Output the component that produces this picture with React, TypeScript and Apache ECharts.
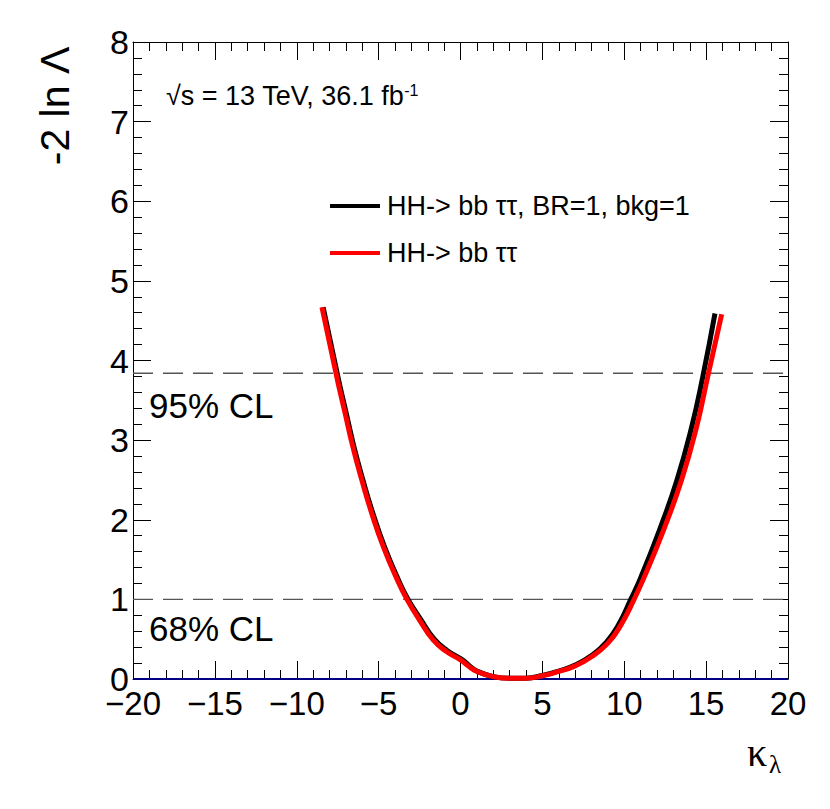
import React, { useEffect, useRef } from "react";
import * as echarts from "echarts";

const xRange = [-20, 20];
const yRange = [0, 8];

const blackName = "HH-> bb \u03c4\u03c4, BR=1, bkg=1";
const redName = "HH-> bb \u03c4\u03c4";

const blackCurve: [number, number][] = [
  [-8.39, 4.67], [-7.45, 3.76], [-6.98, 3.34], [-6.51, 2.92], [-5.96, 2.5],
  [-5.35, 2.08], [-4.64, 1.66], [-3.78, 1.24], [-3.2, 1.0], [-2.43, 0.75],
  [-1.6, 0.5], [-0.8, 0.355], [0.05, 0.25], [0.55, 0.165], [1.0, 0.1],
  [2.0, 0.03], [3.0, 0.008], [4.0, 0.01], [5.0, 0.045], [6.0, 0.1],
  [7.0, 0.175], [8.0, 0.295], [8.9, 0.46], [9.65, 0.68], [10.4, 1.0],
  [11.0, 1.27], [12.15, 1.87], [13.22, 2.5], [14.1, 3.15], [14.8, 3.8],
  [15.54, 4.59],
];

const redCurve: [number, number][] = [
  [-8.46, 4.67], [-7.52, 3.76], [-7.05, 3.34], [-6.58, 2.92], [-6.03, 2.5],
  [-5.42, 2.08], [-4.71, 1.66], [-3.85, 1.24], [-3.27, 1.0], [-2.5, 0.74],
  [-1.67, 0.49], [-0.86, 0.345], [0.0, 0.24], [0.5, 0.16], [1.0, 0.095],
  [2.0, 0.03], [3.0, 0.008], [4.0, 0.01], [5.0, 0.04], [6.0, 0.095],
  [7.0, 0.165], [8.0, 0.28], [9.0, 0.45], [9.8, 0.68], [10.6, 1.0],
  [11.2, 1.27], [12.4, 1.87], [13.5, 2.5], [14.4, 3.15], [15.1, 3.8],
  [15.95, 4.58],
];

const cl68: [number, number][] = [[-20, 1], [20, 1]];
const cl95: [number, number][] = [[-20, 3.84], [20, 3.84]];
const zeroLine: [number, number][] = [[-20, 0], [20, 0]];

const FONT = "Liberation Sans, Arial, Helvetica, sans-serif";

export default function App() {
  const ref = useRef<HTMLDivElement>(null);
  useEffect(() => {
    document.body.style.margin = "0";
    if (!ref.current) return;
    const chart = echarts.init(ref.current, undefined, { renderer: "svg" });
    const tickCommon = {
      axisLine: { show: true, onZero: false, lineStyle: { color: "#000", width: 1 } },
      axisTick: { show: true, inside: true, length: 18, lineStyle: { color: "#000", width: 1 } },
      minorTick: { show: true, splitNumber: 5, length: 9, lineStyle: { color: "#000", width: 1 } },
      splitLine: { show: false },
      minorSplitLine: { show: false },
    };
    const fmt = (v: number) => (v < 0 ? "\u2212" + Math.abs(v) : String(v));
    chart.setOption({
      animation: false,
      backgroundColor: "#fff",
      grid: { left: 133, right: 42, top: 42, bottom: 130, containLabel: false },
      legend: {
        left: 325,
        top: 186,
        orient: "vertical",
        icon: "rect",
        itemWidth: 50,
        itemHeight: 4,
        itemGap: 17,
        textStyle: { fontFamily: FONT, fontSize: 27, color: "#000", lineHeight: 30, padding: [0, 0, 0, 2] },
        data: [blackName, redName],
      },
      xAxis: [
        {
          type: "value", min: xRange[0], max: xRange[1], interval: 5, position: "bottom",
          ...tickCommon,
          axisLabel: { show: true, fontFamily: FONT, fontSize: 33, color: "#000", margin: 8, formatter: fmt },
        },
        {
          type: "value", min: xRange[0], max: xRange[1], interval: 5, position: "top",
          ...tickCommon,
          axisLabel: { show: false },
        },
      ],
      yAxis: [
        {
          type: "value", min: yRange[0], max: yRange[1], interval: 1, position: "left",
          ...tickCommon,
          axisLabel: { show: true, fontFamily: FONT, fontSize: 34, color: "#000", margin: 4 },
        },
        {
          type: "value", min: yRange[0], max: yRange[1], interval: 1, position: "right",
          ...tickCommon,
          axisLabel: { show: false },
        },
      ],
      series: [
        {
          name: "cl95", type: "line", data: cl95, symbol: "none", silent: true,
          lineStyle: { color: "#555", width: 1.3, type: [20, 10] },
        },
        {
          name: "cl68", type: "line", data: cl68, symbol: "none", silent: true,
          lineStyle: { color: "#555", width: 1.3, type: [20, 10] },
        },
        {
          name: "zero", type: "line", data: zeroLine, symbol: "none", silent: true,
          lineStyle: { color: "#000080", width: 2 },
        },
        {
          name: blackName, type: "line", data: blackCurve, symbol: "none",
          smooth: 0.5, itemStyle: { color: "#000" },
          lineStyle: { color: "#000", width: 5 },
        },
        {
          name: redName, type: "line", data: redCurve, symbol: "none",
          smooth: 0.5, itemStyle: { color: "#ff0000" },
          lineStyle: { color: "#ff0000", width: 5 },
        },
      ],
      graphic: [
        {
          type: "text", x: 55, y: 106, rotation: Math.PI / 2,
          style: { text: "-2 ln \u039b", fontFamily: FONT, fontSize: 41, fill: "#000", align: "center", verticalAlign: "middle" },
        },
        {
          type: "text", x: 747, y: 752,
          style: { text: "\u03ba", fontFamily: "Liberation Serif, DejaVu Serif, serif", fontSize: 40, fill: "#000", align: "left", verticalAlign: "middle" },
        },
        {
          type: "text", x: 769, y: 764,
          style: { text: "\u03bb", fontFamily: "Liberation Serif, DejaVu Serif, serif", fontSize: 25, fill: "#000", align: "left", verticalAlign: "middle" },
        },
        {
          type: "text", x: 149, y: 405,
          style: { text: "95% CL", fontFamily: FONT, fontSize: 35, fill: "#000", align: "left", verticalAlign: "middle" },
        },
        {
          type: "text", x: 149, y: 628,
          style: { text: "68% CL", fontFamily: FONT, fontSize: 35, fill: "#000", align: "left", verticalAlign: "middle" },
        },
        {
          type: "text", x: 166, y: 96,
          style: {
            text: "{a|\u221as = 13 TeV, 36.1 fb}{s|-1}",
            align: "left", verticalAlign: "middle",
            rich: {
              a: { fontFamily: FONT, fontSize: 27, color: "#000" },
              s: { fontFamily: FONT, fontSize: 16, color: "#000", verticalAlign: "top", padding: [0, 0, 12, 0] },
            },
          },
        },
      ],
    });
    return () => chart.dispose();
  }, []);
  return <div ref={ref} style={{ width: 830, height: 809 }} />;
}
